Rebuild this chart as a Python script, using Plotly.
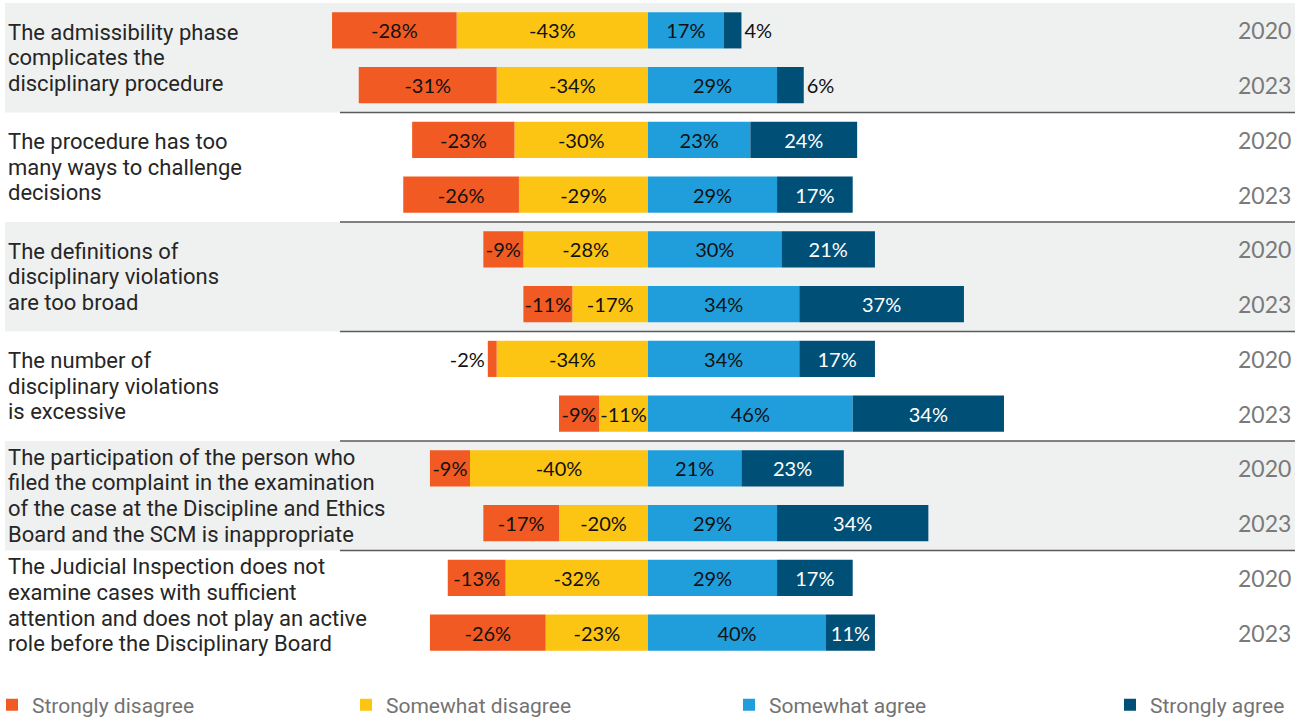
import plotly.graph_objects as go

# Survey statements, one entry per line of the wrapped label
statements = [
    ["The admissibility phase", "complicates the", "disciplinary procedure"],
    ["The procedure has too", "many ways to challenge", "decisions"],
    ["The definitions of", "disciplinary violations", "are too broad"],
    ["The number of", "disciplinary violations", "is excessive"],
    ["The participation of the person who", "filed the complaint in the examination",
     "of the case at the Discipline and Ethics", "Board and the SCM is inappropriate"],
    ["The Judicial Inspection does not", "examine cases with sufficient",
     "attention and does not play an active", "role before the Disciplinary Board"],
]
years = ["2020", "2023"]

# Shares (%) per row: statement 1 2020, statement 1 2023, statement 2 2020, ...
strongly_disagree = [-28, -31, -23, -26, -9, -11, -2, -9, -9, -17, -13, -26]
somewhat_disagree = [-43, -34, -30, -29, -28, -17, -34, -11, -40, -20, -32, -23]
somewhat_agree = [17, 29, 23, 29, 30, 34, 34, 46, 21, 29, 29, 40]
strongly_agree = [4, 6, 24, 17, 21, 37, 17, 34, 23, 34, 17, 11]

C_SD = "#F15A22"
C_D = "#FDC513"
C_A = "#1F9EDB"
C_SA = "#004F77"

n_rows = len(strongly_disagree)
rows = list(range(n_rows))
LABEL_FONT = "Lato, Open Sans, sans-serif"

W, H = 1306, 718
ML, MR, MT, MB = 5, 11, 3, 58
plot_w = W - ML - MR
plot_h = H - MT - MB
row_px = plot_h / n_rows
px_per_pct = 4.45
zero_px = 648
x_range = [-(zero_px - ML) / px_per_pct, (W - MR - zero_px) / px_per_pct]


def pct_text(vals):
    return [f"{v}%" for v in vals]


def positions(vals, small):
    return ["outside" if abs(v) <= small else "inside" for v in vals]


fig = go.Figure()

# disagree segments stack outward from zero, so the milder one goes first
series = [
    ("Somewhat disagree", somewhat_disagree, C_D, "#111111", "legend2", 0),
    ("Strongly disagree", strongly_disagree, C_SD, "#111111", "legend", 6),
    ("Somewhat agree", somewhat_agree, C_A, "#111111", "legend3", 0),
    ("Strongly agree", strongly_agree, C_SA, "#FFFFFF", "legend4", 6),
]
for name, vals, color, tcolor, lg, small in series:
    fig.add_trace(go.Bar(
        name=name,
        x=vals,
        y=rows,
        orientation="h",
        marker=dict(color=color, line=dict(width=0)),
        width=0.66,
        text=pct_text(vals),
        textposition=positions(vals, small),
        insidetextanchor="middle",
        insidetextfont=dict(family=LABEL_FONT, size=20, color=tcolor),
        outsidetextfont=dict(family=LABEL_FONT, size=20, color="#111111"),
        cliponaxis=False,
        legend=lg,
        hoverinfo="skip",
    ))

shapes = []
annotations = []
sep_x0 = (340 - ML) / plot_w
line_step = 25.6 / row_px
for g, lines in enumerate(statements):
    top = 2 * g - 0.5
    bottom = 2 * g + 1.5
    if g % 2 == 0:
        shapes.append(dict(type="rect", xref="paper", yref="y", x0=0, x1=1,
                           y0=top, y1=bottom, fillcolor="#EFF0F0",
                           line=dict(width=0), layer="below"))
    if g > 0:
        shapes.append(dict(type="line", xref="paper", yref="y", x0=sep_x0, x1=1,
                           y0=top, y1=top, line=dict(color="#5A5A5A", width=1.5),
                           layer="above"))
    mid = 2 * g + 0.5
    first = mid - line_step * (len(lines) - 1) / 2
    for i, line in enumerate(lines):
        annotations.append(dict(
            xref="paper", yref="y", x=1 / plot_w, y=first + i * line_step,
            xanchor="left", yanchor="middle", align="left", showarrow=False,
            text=line, font=dict(family="Roboto, sans-serif", size=22, color="#262626"),
        ))
    for k, yr in enumerate(years):
        annotations.append(dict(
            xref="paper", yref="y", x=1 - 2 / plot_w, y=2 * g + k,
            xanchor="right", yanchor="middle", showarrow=False,
            text=yr, font=dict(family=LABEL_FONT, size=23, color="#7A7A7A"),
        ))

legend_common = dict(orientation="h", xref="container", yref="container",
                     yanchor="middle", y=(H - 705) / H, indentation=-8,
                     xanchor="left", bgcolor="rgba(0,0,0,0)", borderwidth=0,
                     font=dict(family="Roboto, sans-serif", size=21, color="#737373"),
                     itemclick=False, itemdoubleclick=False)
legend_text_px = {"legend": 32, "legend2": 386, "legend3": 769, "legend4": 1150}
legend_layout = {}
for key, tx in legend_text_px.items():
    legend_layout[key] = dict(legend_common, x=max(tx - 32, 0) / W)

fig.update_layout(
    width=W, height=H,
    margin=dict(l=ML, r=MR, t=MT, b=MB, pad=0, autoexpand=False),
    barmode="relative",
    paper_bgcolor="white",
    plot_bgcolor="rgba(0,0,0,0)",
    xaxis=dict(range=x_range, visible=False, fixedrange=True),
    yaxis=dict(range=[n_rows - 0.5, -0.5], visible=False, fixedrange=True),
    shapes=shapes,
    annotations=annotations,
    uniformtext=dict(minsize=20, mode="show"),
    showlegend=True,
    **legend_layout,
)

fig.write_html("out.html", config={"displayModeBar": False})
